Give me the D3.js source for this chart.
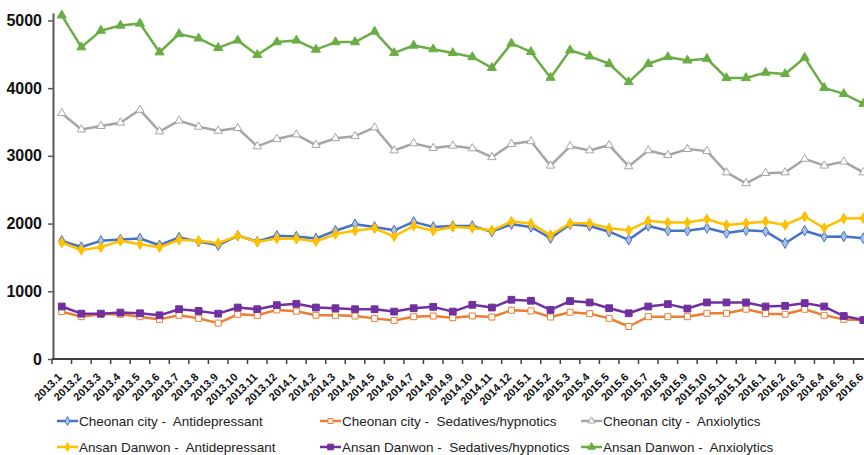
<!DOCTYPE html>
<html>
<head>
<meta charset="utf-8">
<script src="https://cdn.jsdelivr.net/npm/d3@7"></script>
<style>
  body { margin: 0; background: #fff; }
  svg { display: block; font-family: "Liberation Sans", Arial, sans-serif; }
</style>
</head>
<body>
<svg id="mount" width="864" height="455"></svg>
<script>
// Month labels, 2013.1 .. 2016.6
var months = [];
[2013, 2014, 2015].forEach(function(y) {
  for (var m = 1; m <= 12; m++) months.push(y + "." + m);
});
for (var m = 1; m <= 6; m++) months.push("2016." + m);

var yTicks = [0, 1000, 2000, 3000, 4000, 5000];

var cheonanAntidep = [
  1745, 1655, 1745, 1765, 1780, 1680, 1795, 1735, 1680, 1820, 1735, 1820,
  1810, 1780, 1895, 1990, 1950, 1900, 2025, 1950, 1965, 1965, 1880, 1990,
  1950, 1785, 1990, 1965, 1880, 1760, 1965, 1895, 1895, 1935, 1860, 1900,
  1885, 1710, 1895, 1805, 1810, 1785
];
var cheonanSedative = [
  700, 625, 660, 660, 625, 585, 645, 600, 530, 660, 645, 725,
  705, 645, 645, 635, 600, 570, 625, 635, 610, 635, 620, 720,
  710, 620, 690, 670, 600, 480, 625, 625, 625, 675, 675, 735,
  670, 660, 735, 645, 585, 575
];
var cheonanAnxio = [
  3630, 3390, 3440, 3490, 3680, 3360, 3520, 3430, 3370, 3410, 3140, 3250,
  3315, 3160, 3260, 3290, 3420, 3080, 3185, 3115, 3150, 3110, 2980, 3175,
  3215, 2855, 3140, 3080, 3160, 2845, 3080, 3010, 3100, 3070, 2755, 2595,
  2745, 2755, 2955, 2855, 2915, 2755
];
var ansanAntidep = [
  1720, 1610, 1650, 1745, 1695, 1650, 1760, 1745, 1710, 1820, 1730, 1780,
  1775, 1735, 1845, 1895, 1930, 1810, 1965, 1895, 1950, 1935, 1900, 2030,
  2000, 1830, 2005, 2005, 1930, 1900, 2040, 2015, 2015, 2065, 1980, 2005,
  2030, 1980, 2105, 1935, 2075, 2080
];
var ansanSedative = [
  775, 670, 670, 685, 675, 645, 735, 710, 670, 760, 735, 795,
  815, 760, 750, 735, 735, 700, 750, 770, 700, 800, 760, 875,
  860, 725, 855, 835, 750, 675, 775, 810, 745, 835, 835, 835,
  775, 785, 825, 775, 635, 575
];
var ansanAnxio = [
  5075, 4605, 4850, 4925, 4955, 4530, 4800, 4735, 4595, 4705, 4490, 4680,
  4705, 4570, 4680, 4680, 4835, 4520, 4630, 4575, 4520, 4460, 4300, 4660,
  4535, 4155, 4560, 4470, 4360, 4090, 4360, 4460, 4410, 4435, 4150, 4150,
  4230, 4210, 4450, 4005, 3915, 3770
];

var seriesNames = [
  "Cheonan city -  Antidepressant",
  "Cheonan city -  Sedatives/hypnotics",
  "Cheonan city -  Anxiolytics",
  "Ansan Danwon -  Antidepressant",
  "Ansan Danwon -  Sedatives/hypnotics",
  "Ansan Danwon -  Anxiolytics"
];
var seriesValues = [cheonanAntidep, cheonanSedative, cheonanAnxio,
  ansanAntidep, ansanSedative, ansanAnxio];

// colour, marker shape, marker fill
var seriesStyle = [
  { color: "#4472C4", shape: d3.symbolDiamond, fill: "#A9C1E8", size: 32 },
  { color: "#ED7D31", shape: d3.symbolSquare, fill: "#fff", size: 36 },
  { color: "#A5A5A5", shape: d3.symbolTriangle, fill: "#fff", size: 30 },
  { color: "#FFC000", shape: d3.symbolDiamond, fill: "#FFC000", size: 32 },
  { color: "#7030A0", shape: d3.symbolSquare, fill: "#7030A0", size: 46 },
  { color: "#6AAD45", shape: d3.symbolTriangle, fill: "#6AAD45", size: 36 }
];

var svg = d3.select("#mount");

var xScale = d3.scaleBand()
  .domain(months)
  .range([52, 52 + 19.55 * months.length]);
var yScale = d3.scaleLinear()
  .domain([0, 5110])
  .range([359, 13]);

function cx(d, i) {
  return xScale(months[i]) + xScale.bandwidth() / 2;
}

// y axis
var yAxis = svg.append("g")
  .attr("transform", "translate(53,0)")
  .call(d3.axisLeft(yScale).tickValues(yTicks).tickSize(5).tickSizeOuter(0).tickFormat(d3.format("d")));
yAxis.select(".domain").attr("stroke", "#595959").attr("stroke-width", 2);
yAxis.selectAll(".tick line").attr("stroke", "#595959").attr("stroke-width", 1.5);
yAxis.selectAll(".tick text")
  .attr("x", -11)
  .attr("fill", "#111")
  .style("font-size", "16px")
  .style("font-weight", "bold");

// x axis, ticks sit between categories
var xAxis = svg.append("g").attr("transform", "translate(0,359)");
xAxis.append("line")
  .attr("x1", 52).attr("x2", 864)
  .attr("stroke", "#404040").attr("stroke-width", 2);
xAxis.selectAll(".tk")
  .data(months)
  .enter()
  .append("line")
  .attr("x1", function(d) { return xScale(d); })
  .attr("x2", function(d) { return xScale(d); })
  .attr("y1", 0).attr("y2", 5)
  .attr("stroke", "#404040").attr("stroke-width", 1.5);
xAxis.selectAll(".lbl")
  .data(months)
  .enter()
  .append("text")
  .attr("transform", function(d) {
    return "translate(" + (xScale(d) + xScale.bandwidth() / 2 - 2) + ",16) rotate(-45)";
  })
  .attr("text-anchor", "end")
  .attr("dy", "0.35em")
  .attr("fill", "#111")
  .style("font-size", "11px")
  .style("font-weight", "bold")
  .text(function(d) { return d; });

// lines + markers
var line = d3.line()
  .x(cx)
  .y(function(d) { return yScale(d); });

seriesValues.forEach(function(values, k) {
  var st = seriesStyle[k];
  svg.append("path")
    .datum(values)
    .attr("fill", "none")
    .attr("stroke", st.color)
    .attr("stroke-width", 2.5)
    .attr("stroke-linejoin", "round")
    .attr("d", line);
  svg.append("g")
    .selectAll("path")
    .data(values)
    .enter()
    .append("path")
    .attr("transform", function(d, i) {
      return "translate(" + cx(d, i) + "," + yScale(d) + ")";
    })
    .attr("d", d3.symbol().type(st.shape).size(st.size))
    .attr("fill", st.fill)
    .attr("stroke", st.color)
    .attr("stroke-width", 1);
});

// legend, two rows of three
var legendCols = [57, 320, 581];
var legendRows = [421, 447];
seriesNames.forEach(function(name, k) {
  var st = seriesStyle[k];
  var g = svg.append("g")
    .attr("transform", "translate(" + legendCols[k % 3] + "," + legendRows[Math.floor(k / 3)] + ")");
  g.append("line")
    .attr("x1", 0).attr("x2", 21)
    .attr("stroke", st.color).attr("stroke-width", 2.5);
  g.append("path")
    .attr("transform", "translate(10.5,0)")
    .attr("d", d3.symbol().type(st.shape).size(st.size * 0.7))
    .attr("fill", st.fill)
    .attr("stroke", st.color)
    .attr("stroke-width", 1);
  g.append("text")
    .attr("x", 22)
    .attr("dy", "0.35em")
    .attr("fill", "#222")
    .style("font-size", "13.5px")
    .style("white-space", "pre")
    .text(name);
});
</script>
</body>
</html>
